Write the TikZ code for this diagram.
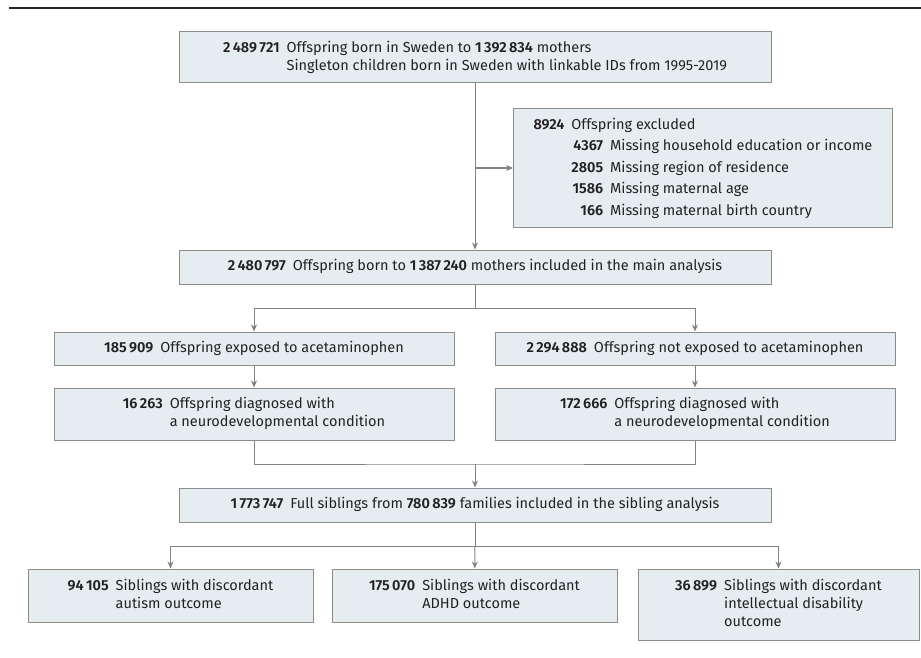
\documentclass[tikz,border=0pt]{standalone}
\usepackage{fontspec}
\setmainfont{Fira Sans}[BoldFont={Fira Sans SemiBold}]
\usetikzlibrary{arrows.meta}
\definecolor{boxfill}{HTML}{E6EDF1}
\definecolor{boxline}{HTML}{8C8C8C}
\definecolor{flowline}{HTML}{828282}
\definecolor{txt}{HTML}{222222}
\tikzset{
  box/.style={draw=boxline, fill=boxfill, line width=1pt, inner sep=0pt, text=txt,
    font=\fontsize{14.5}{18}\selectfont},
  flow/.style={draw=flowline, line width=1pt},
}
\newcommand{\numtab}[1]{\begin{tabular}{@{}r@{\hspace{7pt}}l@{}}#1\end{tabular}}

\begin{document}
\begin{tikzpicture}[x=1pt,y=-1pt,>={Stealth[length=7pt,width=6pt]}]
  \useasboundingbox (0,0) rectangle (921,658);
  \draw[line width=2pt, black!85] (9,8) -- (921,8);

  \node[box, minimum width=592pt, minimum height=51pt] (born) at (475,57.5)
    {\numtab{\textbf{2\,489\,721} & Offspring born in Sweden to \textbf{1\,392\,834} mothers\\
      & Singleton children born in Sweden with linkable IDs from 1995-2019}};
  \node[box, anchor=north west, inner xsep=20pt, minimum height=119pt] (excl) at (513,108)
    {\renewcommand{\arraystretch}{1.2}%
     \begin{tabular}{@{}r@{\hspace{7pt}}r@{\hspace{7pt}}l@{}}
      \textbf{8924} & \multicolumn{2}{@{}l@{}}{Offspring excluded}\\
      & \textbf{4367} & Missing household education or income\\
      & \textbf{2805} & Missing region of residence\\
      & \textbf{1586} & Missing maternal age\\
      & \textbf{166} & Missing maternal birth country
     \end{tabular}};
  \node[box, minimum width=592pt, minimum height=34pt] (main) at (475,267)
    {\numtab{\textbf{2\,480\,797} & Offspring born to \textbf{1\,387\,240} mothers included in the main analysis}};

  \node[box, minimum width=400pt, minimum height=33pt] (expo) at (254,348.5)
    {\numtab{\textbf{185\,909} & Offspring exposed to acetaminophen}};
  \node[box, minimum width=400pt, minimum height=33pt] (unexpo) at (695,348.5)
    {\numtab{\textbf{2\,294\,888} & Offspring not exposed to acetaminophen}};
  \node[box, minimum width=400pt, minimum height=52pt] (diag) at (254,414)
    {\numtab{\textbf{16\,263} & Offspring diagnosed with\\ & a neurodevelopmental condition}};
  \node[box, minimum width=400pt, minimum height=52pt] (undiag) at (695,414)
    {\numtab{\textbf{172\,666} & Offspring diagnosed with\\ & a neurodevelopmental condition}};

  \node[box, minimum width=592pt, minimum height=34pt] (sib) at (475,505)
    {\numtab{\textbf{1\,773\,747} & Full siblings from \textbf{780\,839} families included in the sibling analysis}};

  \node[box, minimum width=285pt, minimum height=53pt] (autism) at (170.5,595.5)
    {\numtab{\textbf{94\,105} & Siblings with discordant\\ & autism outcome}};
  \node[box, minimum width=285pt, minimum height=53pt] (adhd) at (474.5,595.5)
    {\numtab{\textbf{175\,070} & Siblings with discordant\\ & ADHD outcome}};
  \node[box, minimum width=281pt, minimum height=71pt] (intel) at (778.5,604.5)
    {\numtab{\textbf{36\,899} & Siblings with discordant\\ & intellectual disability\\ & outcome}};

  \coordinate (split) at (475,308);
  \coordinate (join) at (475,464);
  \coordinate (fork) at (475,546);

  \draw[flow,->] (born) -- (main);
  \draw[flow,->] (born.south |- excl.west) -- (excl.west);
  \draw[flow] (main) -- (split);
  \draw[flow,->] (split) -| (expo);
  \draw[flow,->] (split) -| (unexpo);
  \draw[flow,->] (expo) -- (diag);
  \draw[flow,->] (unexpo) -- (undiag);
  \draw[flow] (diag) |- (join) -| (undiag);
  \draw[flow,->] (join) -- (sib);
  \draw[flow] (sib) -- (fork);
  \draw[flow,->] (fork) -| (autism);
  \draw[flow,->] (fork) -- (adhd);
  \draw[flow,->] (fork) -| (intel);
\end{tikzpicture}
\end{document}
